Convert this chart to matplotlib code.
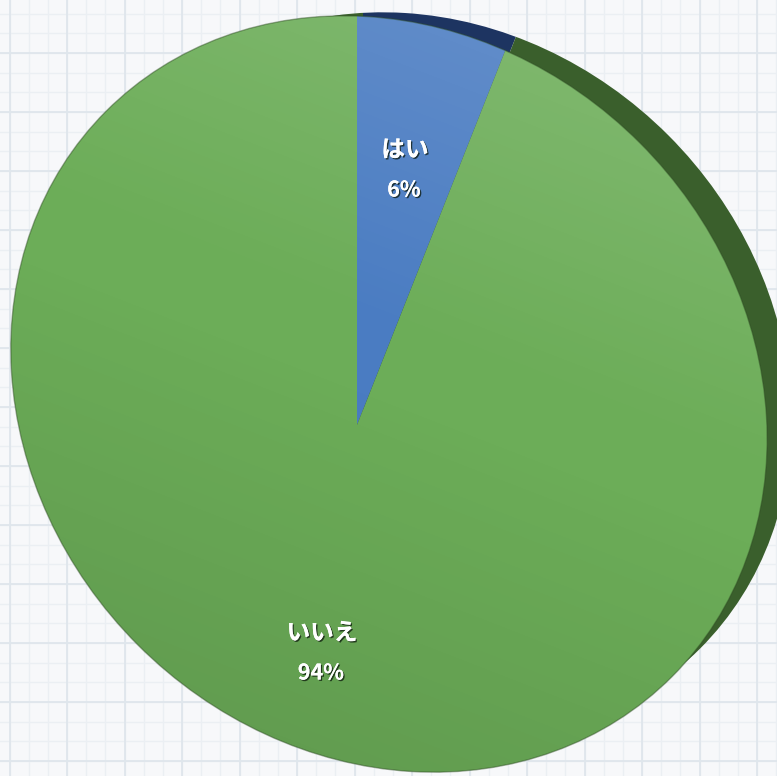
import numpy as np
import matplotlib
matplotlib.use('Agg')
import matplotlib.pyplot as plt
from matplotlib.patches import Ellipse
import matplotlib.patheffects as pe

plt.rcParams['font.family'] = ['Noto Sans CJK JP', 'DejaVu Sans']

# data
labels = ['はい', 'いいえ']
values = [6, 94]
pct_labels = ['6%', '94%']
face_colors = ['#4a7cc2', '#6cad58']
side_colors = ['#1d3461', '#3a5f2c']

W, H = 777, 776
fig = plt.figure(figsize=(W / 100, H / 100), dpi=100)
ax = fig.add_axes([0, 0, 1, 1])

# graph paper background
ax.set_facecolor('#f7f8fa')
for x in np.arange(9.5 - 57.5, W, 57.5 / 3):
    ax.axvline(x, color='#ebeff3', lw=1, zorder=0)
for y in np.arange(H + 6, -20, -59 / 3):
    ax.axhline(y, color='#ebeff3', lw=1, zorder=0)
for x in np.arange(9.5, W, 57.5):
    ax.axvline(x, color='#dfe6ec', lw=1.3, zorder=0)
for y in np.arange(H + 6, -20, -59):
    ax.axhline(y, color='#dfe6ec', lw=1.3, zorder=0)

# geometry of the tilted pie (pixel coords, y up)
cx, cy = 389, H - 394          # centre of the top face ellipse
vx, vy = 357, H - 425          # apex of the slices
ea, eb = 400, 355              # semi axes
sh_off = (38.5, 18)            # offset of the depth ellipse
sh_shrink = 14.5

side_clip = Ellipse((cx + sh_off[0], cy + sh_off[1]), 2 * (ea - sh_shrink),
                    2 * (eb - sh_shrink), angle=-45, transform=ax.transData)
face_clip = Ellipse((cx, cy), 2 * ea, 2 * eb, angle=-45, transform=ax.transData)

# side (depth) of the pie
side_w, _ = ax.pie(values, colors=side_colors, startangle=90, counterclock=False,
                   center=(vx + 6, vy + 2), radius=1000,
                   wedgeprops=dict(linewidth=0))
for w in side_w:
    w.set_clip_on(True)
    w.set_clip_path(side_clip)
    w.set_zorder(1)

# top face
face_w, _ = ax.pie(values, colors=face_colors, startangle=90, counterclock=False,
                   center=(vx, vy), radius=1000,
                   wedgeprops=dict(linewidth=0))
for w in face_w:
    w.set_clip_on(True)
    w.set_clip_path(face_clip)
    w.set_zorder(2)

# soft light: lighter top right, darker bottom
yy, xx = np.mgrid[0:H, 0:W]
t = (yy / H) * 0.72 + (xx / W) * 0.28
shade = np.zeros((H, W, 4))
light = np.clip((t - 0.55) / 0.45, 0, 1)
dark = np.clip((0.5 - t) / 0.5, 0, 1)
shade[..., :3] = np.where((light > 0)[..., None], 1.0, 0.0)
shade[..., 3] = light * 0.18 + dark * 0.13
img = ax.imshow(shade, extent=[0, W, 0, H], origin='lower', zorder=3,
                interpolation='bilinear')
img.set_clip_path(face_clip)

edge = Ellipse((cx, cy), 2 * ea, 2 * eb, angle=-45, fill=False,
               edgecolor='#2d4a22', lw=1.0, alpha=0.45, zorder=4)
ax.add_patch(edge)

# labels
fx = [pe.withSimplePatchShadow(offset=(1, -1), shadow_rgbFace='#0c180c', alpha=0.75),
      pe.Normal()]
pos = [(405, H - 150), (322, H - 633)]
for (x, y), lab, pct in zip(pos, labels, pct_labels):
    ax.text(x, y, lab, color='white', fontsize=17, fontweight='bold',
            ha='center', va='center', zorder=5, path_effects=fx)
    ax.text(x - 1, y - 40, pct, color='white', fontsize=15.5, fontweight='bold',
            ha='center', va='center', zorder=5, path_effects=fx)

ax.set_xlim(0, W)
ax.set_ylim(0, H)
ax.set_aspect('auto')
ax.axis('off')
fig.patch.set_facecolor('#f7f8fa')
fig.savefig('out.png', dpi=100, facecolor=fig.get_facecolor())
